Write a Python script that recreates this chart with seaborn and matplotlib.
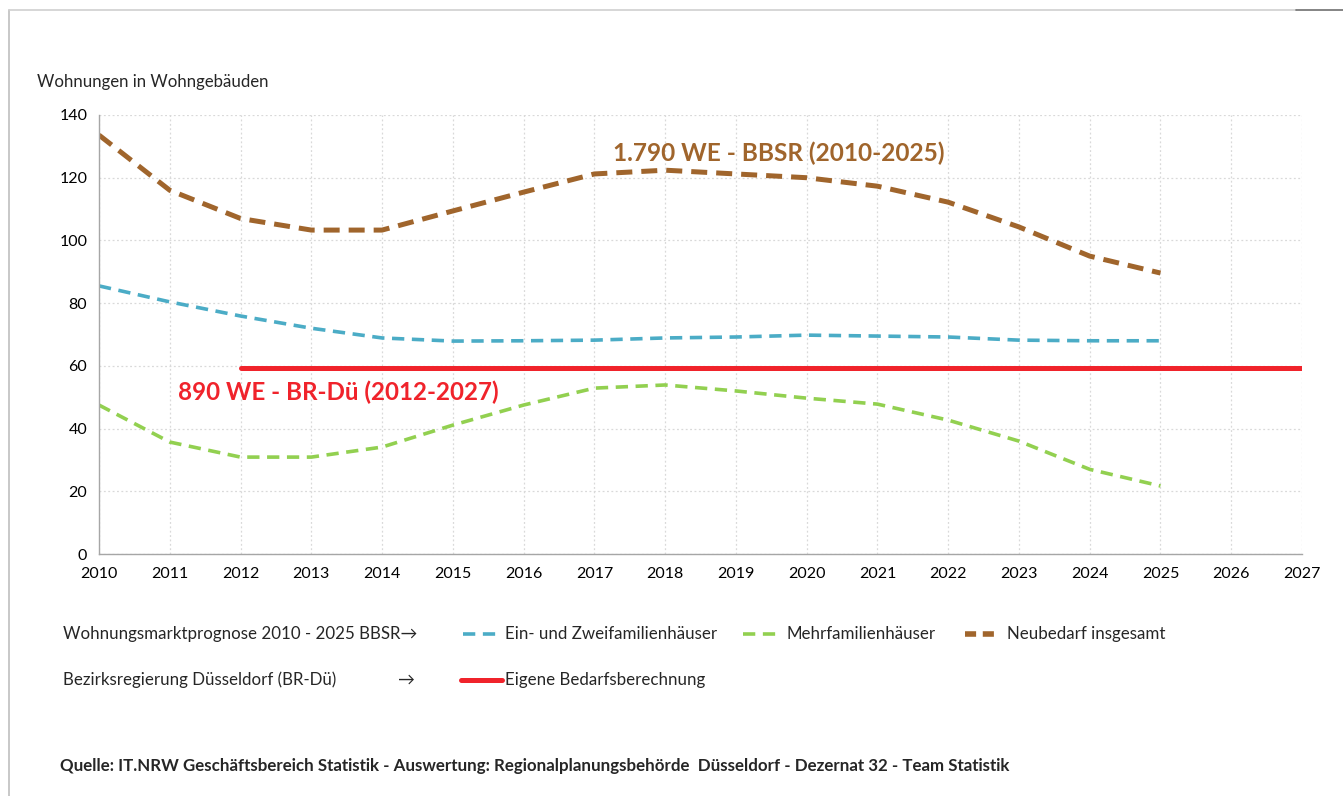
#!/usr/bin/env python3
# plot.py - Wohnungsneubedarf BBSR vs. BR-Dü

import numpy as np
import pandas as pd
import matplotlib
matplotlib.use("Agg")
import matplotlib.pyplot as plt
from matplotlib.lines import Line2D
import seaborn as sns

# 1) Daten
years = list(range(2010, 2026))
ein_zwei = [85.5, 80.4, 75.9, 72.0, 68.9, 67.9, 68.0, 68.2, 68.9, 69.2, 69.8, 69.5, 69.2, 68.2, 68.0, 68.0]
mehr = [47.5, 35.7, 30.9, 30.9, 34.1, 41.1, 47.5, 52.9, 53.9, 52.0, 49.7, 47.8, 42.7, 36.0, 27.0, 21.7]
gesamt = [133.6, 116.0, 107.0, 103.3, 103.3, 109.4, 115.4, 121.2, 122.4, 121.2, 120.0, 117.3, 112.2, 104.3, 95.0, 89.6]
br_years = [2012, 2027]
br_value = [59.3, 59.3]

BLUE = "#4BACC6"
GREEN = "#92D050"
BROWN = "#A0652C"
RED = "#F0232B"

df = pd.DataFrame({"Jahr": years, "ein": ein_zwei, "mehr": mehr, "ges": gesamt})
df_br = pd.DataFrame({"Jahr": br_years, "wert": br_value})

# 2) Figur
sns.set_theme(style="white")
plt.rcParams["font.family"] = ["Lato", "DejaVu Sans"]

W, H = 1343, 796
fig = plt.figure(figsize=(W / 100, H / 100), dpi=100)
ax = fig.add_axes([99 / W, 1 - 554 / H, (1302 - 99) / W, (554 - 115) / H])

DASH_S = (0, (3.4, 2.1))
DASH_B = (0, (3.2, 1.8))

sns.lineplot(data=df, x="Jahr", y="ein", ax=ax, color=BLUE, lw=2.6, linestyle=DASH_S)
sns.lineplot(data=df, x="Jahr", y="mehr", ax=ax, color=GREEN, lw=2.6, linestyle=DASH_S)
sns.lineplot(data=df, x="Jahr", y="ges", ax=ax, color=BROWN, lw=3.6, linestyle=DASH_B)
sns.lineplot(data=df_br, x="Jahr", y="wert", ax=ax, color=RED, lw=3.6)

ax.set_xlim(2010, 2027)
ax.set_ylim(0, 140)
ax.set_xticks(range(2010, 2028))
ax.set_yticks(range(0, 141, 20))
ax.tick_params(axis="both", labelsize=11.5, colors="#A0A0A0", labelcolor="black",
               length=5, width=1, direction="out")
ax.tick_params(axis="x", pad=4)
ax.set_xlabel("")
ax.set_ylabel("")
ax.grid(True, color="#D9D9D9", linestyle=(0, (1.5, 2)), lw=0.9)
for s in ["top", "right"]:
    ax.spines[s].set_visible(False)
for s in ["left", "bottom"]:
    ax.spines[s].set_color("#A6A6A6")
    ax.spines[s].set_linewidth(1.0)

# Beschriftungen im Diagramm
ax.text(2019.6, 127.9, "1.790 WE - BBSR (2010-2025)", color=BROWN, fontsize=17.6,
        fontweight="bold", ha="center", va="center")
ax.text(2011.12, 51.7, "890 WE - BR-Dü (2012-2027)", color=RED, fontsize=17.4,
        fontweight="bold", ha="left", va="center")

fig.text(37 / W, 1 - 82 / H, "Wohnungen in Wohngebäuden", fontsize=12.1, va="center")

# 3) Legende (manuell)
def leg_line(x0, x1, y, color, lw, ls, cap="butt"):
    fig.add_artist(Line2D([x0 / W, x1 / W], [1 - y / H, 1 - y / H], color=color,
                          lw=lw, linestyle=ls, dash_capstyle=cap,
                          transform=fig.transFigure))

LFS = 12.2
r1, r2 = 634, 680
fig.text(63 / W, 1 - r1 / H, "Wohnungsmarktprognose 2010 - 2025 BBSR\u2192", fontsize=LFS, va="center")
leg_line(463, 500, r1, BLUE, 2.6, DASH_S)
fig.text(505 / W, 1 - r1 / H, "Ein- und Zweifamilienhäuser", fontsize=LFS, va="center")
leg_line(743, 781, r1, GREEN, 2.6, DASH_S)
fig.text(787 / W, 1 - r1 / H, "Mehrfamilienhäuser", fontsize=LFS, va="center")
leg_line(965, 995, r1, BROWN, 4.0, (0, (2.0, 1.2)))
fig.text(1007 / W, 1 - r1 / H, "Neubedarf insgesamt", fontsize=LFS, va="center")

fig.text(63 / W, 1 - r2 / H, "Bezirksregierung Düsseldorf (BR-Dü)", fontsize=LFS, va="center")
fig.text(398 / W, 1 - r2 / H, "\u2192", fontsize=LFS, va="center")
leg_line(461, 502, r2, RED, 3.6, "-")
fig.text(505 / W, 1 - r2 / H, "Eigene Bedarfsberechnung", fontsize=LFS, va="center")

fig.text(60 / W, 1 - 766 / H,
         "Quelle: IT.NRW Geschäftsbereich Statistik - Auswertung: Regionalplanungsbehörde  Düsseldorf - Dezernat 32 - Team Statistik",
         fontsize=12.2, fontweight="bold", va="center")

# Rahmen
fig.add_artist(Line2D([9 / W, 9 / W], [0, 1 - 10 / H], color="#BFBFBF", lw=1.2, transform=fig.transFigure))
fig.add_artist(Line2D([9 / W, 1296 / W], [1 - 10 / H, 1 - 10 / H], color="#D0D0D0", lw=1.2, transform=fig.transFigure))
fig.add_artist(Line2D([1296 / W, 1], [1 - 10 / H, 1 - 10 / H], color="#707070", lw=1.2, transform=fig.transFigure))

fig.savefig("out.png", dpi=100)
